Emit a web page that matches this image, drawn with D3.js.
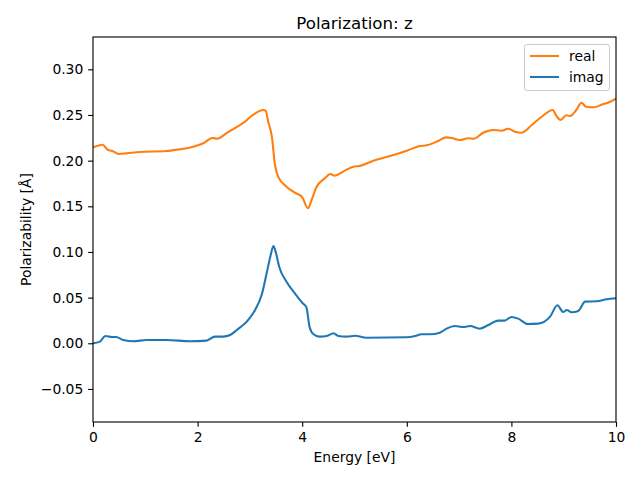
<!DOCTYPE html>
<html><head><meta charset="utf-8">
<script src="https://cdn.jsdelivr.net/npm/d3@7"></script>
<style>body{margin:0;background:#fff}svg{display:block}text{font-family:"DejaVu Sans",sans-serif}</style>
</head><body><svg id="c" width="640" height="480"></svg>
<script>
const realX=[0,0.185,0.27,0.39,0.5,0.64,0.9,1.41,1.66,1.92,2.11,2.28,2.38,2.52,2.72,2.88,3.03,3.26,3.30,3.35,3.42,3.48,3.54,3.70,3.86,4.0,4.11,4.18,4.27,4.43,4.54,4.62,4.79,4.98,5.09,5.36,5.68,6.0,6.25,6.38,6.60,6.75,6.86,7.01,7.17,7.28,7.46,7.65,7.81,7.94,8.07,8.19,8.39,8.58,8.79,8.86,8.94,9.05,9.12,9.24,9.34,9.43,9.57,9.76,9.88,10];
const realY=[0.2146,0.2175,0.2124,0.210,0.2073,0.208,0.2095,0.2105,0.2124,0.2153,0.219,0.2248,0.224,0.2288,0.236,0.2416,0.2489,0.2555,0.2547,0.2427,0.2262,0.1952,0.1824,0.1715,0.1649,0.1599,0.1478,0.1569,0.1708,0.1806,0.1854,0.1835,0.1883,0.1934,0.1941,0.200,0.205,0.2109,0.216,0.2168,0.2215,0.2255,0.2248,0.2226,0.2245,0.224,0.2306,0.2336,0.2328,0.235,0.2317,0.2306,0.239,0.2481,0.2555,0.2489,0.2445,0.2497,0.2489,0.2555,0.2634,0.259,0.2584,0.262,0.2642,0.2678];
const imagX=[0,0.13,0.24,0.36,0.44,0.58,0.77,1.03,1.41,1.85,2.17,2.33,2.49,2.62,2.75,2.94,3.10,3.23,3.32,3.39,3.45,3.50,3.56,3.70,3.86,4.01,4.08,4.14,4.21,4.33,4.47,4.60,4.69,4.85,5.01,5.23,6.0,6.16,6.28,6.44,6.63,6.76,6.92,7.08,7.21,7.39,7.56,7.75,7.87,8.0,8.13,8.31,8.51,8.74,8.88,8.99,9.06,9.15,9.28,9.41,9.63,9.82,10];
const imagY=[0.0,0.0018,0.008,0.0069,0.0069,0.0036,0.0022,0.0036,0.0036,0.0022,0.0029,0.0073,0.0073,0.009,0.0146,0.0237,0.0365,0.054,0.0766,0.0948,0.1065,0.0985,0.0839,0.0675,0.0547,0.0438,0.0394,0.0182,0.0102,0.0073,0.008,0.011,0.008,0.0073,0.0083,0.0061,0.0066,0.008,0.0099,0.0099,0.0116,0.016,0.019,0.0178,0.019,0.016,0.020,0.0248,0.0248,0.0288,0.027,0.0211,0.0215,0.0292,0.0416,0.0343,0.0365,0.034,0.0354,0.0456,0.046,0.0482,0.0493];
const xTicks=[0,2,4,6,8,10];
const yTicks=[-0.05,0,0.05,0.10,0.15,0.20,0.25,0.30];
const seriesNames=["real","imag"];
const colors=["#ff7f0e","#1f77b4"];

const svg=d3.select("#c");
const L=93,R=616,T=37,B=422;
const FS=13.89;
const x=d3.scaleLinear().domain([0,10]).range([L,R]);
const y=d3.scaleLinear().domain([-0.0862,0.3354]).range([B,T]);

svg.append("clipPath").attr("id","clp").append("rect").attr("x",L).attr("y",T).attr("width",R-L).attr("height",B-T);
const line=d3.line().x(d=>x(d[0])).y(d=>y(d[1])).curve(d3.curveMonotoneX);
const data=[d3.zip(realX,realY),d3.zip(imagX,imagY)];
data.forEach((d,i)=>{
  svg.append("path").datum(d).attr("d",line).attr("fill","none").attr("stroke",colors[i]).attr("stroke-width",2.08).attr("stroke-linejoin","round").attr("stroke-linecap","square").attr("clip-path","url(#clp)");
});

const xa=svg.append("g").attr("transform",`translate(0,${B})`).call(d3.axisBottom(x).tickValues(xTicks).tickFormat(d3.format("d")).tickSize(4.86).tickPadding(4.86));
const ya=svg.append("g").attr("transform",`translate(${L},0)`).call(d3.axisLeft(y).tickValues(yTicks).tickFormat(d3.format(".2f")).tickSize(4.86).tickPadding(4.86));
[xa,ya].forEach(a=>{a.select(".domain").remove();a.selectAll("text").attr("font-size",FS).attr("fill","#000").attr("font-family","DejaVu Sans");a.selectAll("line").attr("stroke","#000").attr("stroke-width",1.11);});
ya.selectAll("text").text(d=>d<0?"\u22120.05":d3.format(".2f")(d));

svg.append("rect").attr("x",L).attr("y",T).attr("width",R-L).attr("height",B-T).attr("fill","none").attr("stroke","#000").attr("stroke-width",1.11);

svg.append("text").attr("x",(L+R)/2).attr("y",29).attr("text-anchor","middle").attr("font-size",16.67).text("Polarization: z");
svg.append("text").attr("x",(L+R)/2).attr("y",462).attr("text-anchor","middle").attr("font-size",FS).text("Energy [eV]");
svg.append("text").attr("transform",`translate(31,${(T+B)/2}) rotate(-90)`).attr("text-anchor","middle").attr("font-size",FS).text("Polarizability [Å]");

const lg=svg.append("g");
lg.append("rect").attr("x",524.5).attr("y",44.5).attr("width",85).attr("height",46).attr("rx",2.5).attr("fill","#fff").attr("fill-opacity",0.8).attr("stroke","#ccc").attr("stroke-width",1);
seriesNames.forEach((n,i)=>{
  const cy=56+i*21;
  lg.append("line").attr("x1",530).attr("x2",559).attr("y1",cy).attr("y2",cy).attr("stroke",colors[i]).attr("stroke-width",2.08);
  lg.append("text").attr("x",569).attr("y",cy+5).attr("font-size",FS).text(n);
});
</script></body></html>
